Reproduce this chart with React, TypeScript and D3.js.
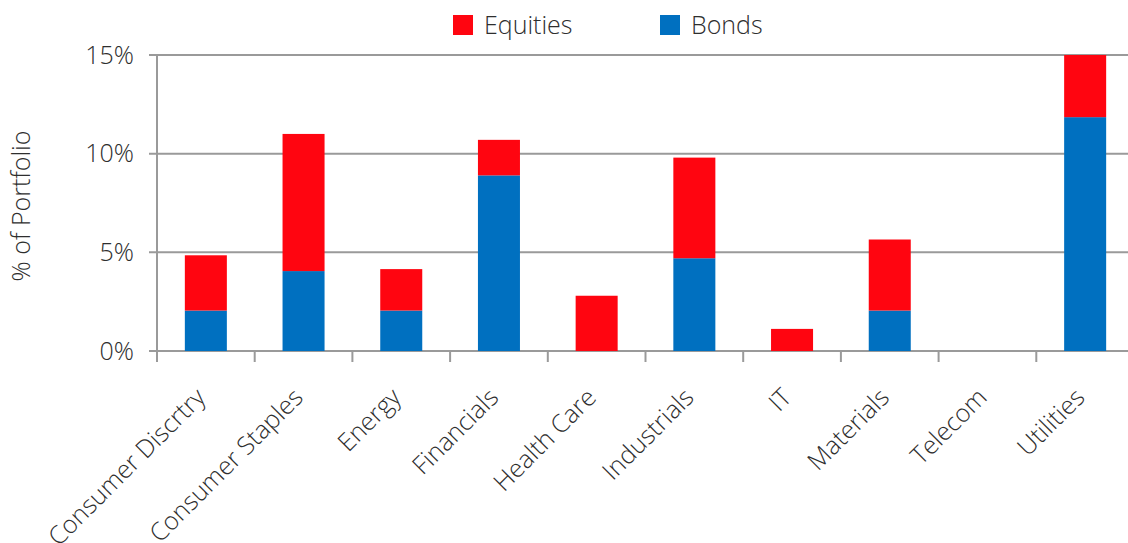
import React, { useEffect, useRef } from "react";
import * as d3 from "d3";

const categories = [
  "Consumer Discrtry",
  "Consumer Staples",
  "Energy",
  "Financials",
  "Health Care",
  "Industrials",
  "IT",
  "Materials",
  "Telecom",
  "Utilities",
];
const bonds = [2.05, 4.05, 2.05, 8.9, 0, 4.7, 0, 2.05, 0, 11.85];
const equities = [2.8, 6.95, 2.1, 1.8, 2.8, 5.1, 1.12, 3.6, 0, 3.15];
const yTicks = [0, 5, 10, 15];
const seriesNames = ["Equities", "Bonds"];

const W = 1128;
const H = 543;
const FONT = "'Open Sans', sans-serif";
const WEIGHT = 300;
const TEXT = "#2e2e2e";
const RED = "#ff0510";
const BLUE = "#0070c0";
const GRID = "#9a9a9a";

export default function App() {
  const ref = useRef<SVGSVGElement | null>(null);

  useEffect(() => {
    const svg = d3.select(ref.current);
    svg.selectAll("*").remove();

    const x = d3.scaleBand<string>().domain(categories).range([157, 1134]).padding(0);
    const y = d3.scaleLinear().domain([0, 15]).range([351, 55]);
    const bw = x.bandwidth() * 0.43;

    // gridlines
    svg
      .append("g")
      .selectAll("line")
      .data(yTicks)
      .join("line")
      .attr("x1", 149)
      .attr("x2", W)
      .attr("y1", (d) => y(d))
      .attr("y2", (d) => y(d))
      .attr("stroke", GRID)
      .attr("stroke-width", 2);

    // y axis line
    svg
      .append("line")
      .attr("x1", 157)
      .attr("x2", 157)
      .attr("y1", y(15))
      .attr("y2", y(0) + 11)
      .attr("stroke", GRID)
      .attr("stroke-width", 2);

    // category ticks
    svg
      .append("g")
      .selectAll("line")
      .data(categories.slice(1))
      .join("line")
      .attr("x1", (d) => x(d)!)
      .attr("x2", (d) => x(d)!)
      .attr("y1", y(0))
      .attr("y2", y(0) + 11)
      .attr("stroke", GRID)
      .attr("stroke-width", 2);

    // bars
    const g = svg.append("g");
    categories.forEach((c, i) => {
      const cx = x(c)! + x.bandwidth() / 2;
      if (bonds[i] > 0) {
        g.append("rect")
          .attr("x", cx - bw / 2)
          .attr("width", bw)
          .attr("y", y(bonds[i]))
          .attr("height", y(0) - y(bonds[i]))
          .attr("fill", BLUE);
      }
      if (equities[i] > 0) {
        g.append("rect")
          .attr("x", cx - bw / 2)
          .attr("width", bw)
          .attr("y", y(bonds[i] + equities[i]))
          .attr("height", y(bonds[i]) - y(bonds[i] + equities[i]))
          .attr("fill", RED);
      }
    });

    // y tick labels
    svg
      .append("g")
      .selectAll("text")
      .data(yTicks)
      .join("text")
      .attr("x", 134)
      .attr("y", (d) => y(d))
      .attr("dy", "0.35em")
      .attr("text-anchor", "end")
      .attr("font-family", FONT)
      .attr("font-weight", WEIGHT)
      .attr("font-size", 25)
      .attr("fill", TEXT)
      .text((d) => `${d}%`);

    // y title
    svg
      .append("text")
      .attr("transform", `translate(30,206) rotate(-90)`)
      .attr("text-anchor", "middle")
      .attr("font-family", FONT)
      .attr("font-weight", WEIGHT)
      .attr("font-size", 25)
      .attr("fill", TEXT)
      .text("% of Portfolio");

    // category labels
    svg
      .append("g")
      .selectAll("text")
      .data(categories)
      .join("text")
      .attr(
        "transform",
        (d) => `translate(${x(d)! + x.bandwidth() / 2 + 1},${399}) rotate(-45)`
      )
      .attr("text-anchor", "end")
      .attr("font-family", FONT)
      .attr("font-weight", WEIGHT)
      .attr("font-size", 25)
      .attr("fill", TEXT)
      .text((d) => d);

    // legend
    const legendX = [453, 660];
    const colors = [RED, BLUE];
    seriesNames.forEach((s, i) => {
      svg
        .append("rect")
        .attr("x", legendX[i])
        .attr("y", 15)
        .attr("width", 20)
        .attr("height", 20)
        .attr("fill", colors[i]);
      svg
        .append("text")
        .attr("x", legendX[i] + 31)
        .attr("y", 34)
        .attr("font-family", FONT)
        .attr("font-weight", WEIGHT)
        .attr("font-size", 25)
        .attr("fill", TEXT)
        .text(s);
    });
  }, []);

  return (
    <svg
      ref={ref}
      width={W}
      height={H}
      style={{ position: "absolute", left: 0, top: 0, background: "#fff" }}
    />
  );
}
